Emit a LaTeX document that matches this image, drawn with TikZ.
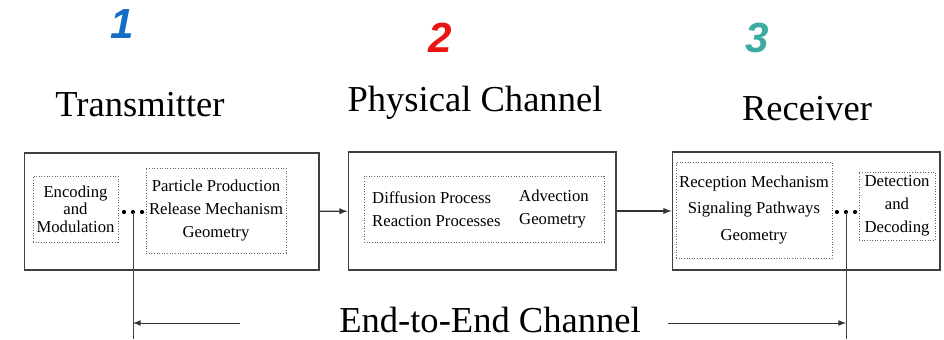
\documentclass[tikz,border=0pt]{standalone}
\usepackage{fontspec}
\setmainfont{Liberation Serif}
\newfontfamily\numfont{Liberation Sans}
\usepackage{xcolor}
\usetikzlibrary{arrows,calc}
\definecolor{numblue}{RGB}{20,110,200}
\definecolor{numred}{RGB}{235,20,20}
\definecolor{numteal}{RGB}{60,170,160}
\tikzset{
  block/.style={draw=black!75, line width=0.6pt, inner sep=0pt},
  inbox/.style={draw=black!60, densely dotted, line width=0.5pt, inner sep=0pt, align=center},
  title/.style={font=\fontsize{20.8}{22}\selectfont},
  small/.style={font=\fontsize{9.5}{13}\selectfont},
  num/.style={font=\numfont\bfseries\itshape\fontsize{24}{24}\selectfont},
}

\begin{document}
\begin{tikzpicture}[x=0.02cm,y=-0.02cm]
  \useasboundingbox (0,0) rectangle (944,339);
  % Define coordinates
  \node[num, text=numblue] (n1) at (122,24) {1};
  \node[num, text=numred] (n2) at (440,38) {2};
  \node[num, text=numteal] (n3) at (757,38) {3};
  \node[title] (ttx) at (140,105) {Transmitter};
  \node[title] (tch) at (475,103) {Physical Channel};
  \node[title] (trx) at (807,109) {Receiver};

  \node[block, minimum width=5.9cm, minimum height=2.34cm] (tx) at (171.5,211.5) {};
  \node[block, minimum width=5.36cm, minimum height=2.36cm] (ch) at (482,211) {};
  \node[block, minimum width=5.36cm, minimum height=2.36cm] (rx) at (806,211) {};

  \node[inbox, minimum width=1.7cm, minimum height=1.32cm, font=\fontsize{9.5}{10}\selectfont] (enc) at (75.5,209) {Encoding\\and\\Modulation};
  \node[inbox, small, minimum width=2.8cm, minimum height=1.7cm] (rel) at (216,210.5) {Particle Production\\Release Mechanism\\Geometry};
  \node[inbox, minimum width=4.8cm, minimum height=1.32cm] (prop) at (484,209) {};
  \node[small, align=left, anchor=west] (diff) at (366,209) {Diffusion Process\\Reaction Processes};
  \node[small, align=left, anchor=west] (adv) at (513,209) {Advection\\Geometry};
  \node[inbox, minimum width=3.12cm, minimum height=1.92cm, font=\fontsize{9.5}{15.3}\selectfont] (rec) at (754,210) {Reception Mechanism\\Signaling Pathways\\Geometry};
  \node[inbox, small, minimum width=1.52cm, minimum height=1.36cm] (dec) at (897,206) {Detection\\and\\Decoding};

  \foreach \x in {124,133,142} \fill (\x,212) circle (2.1);
  \foreach \x in {837,846,855} \fill (\x,212) circle (2.1);
  \coordinate (dtx) at (133,212);
  \coordinate (drx) at (846,212);
  \coordinate (btx) at (133,339);
  \coordinate (brx) at (846,339);
  \draw[black!75, line width=0.5pt] (dtx) -- (btx);
  \draw[black!75, line width=0.5pt] (drx) -- (brx);

  \draw[-latex, black!80, line width=0.6pt] (tx) -- (ch);
  \draw[-latex, black!80, line width=0.6pt] (ch) -- (rx);

  \node[title, inner sep=0pt, anchor=base] (e2e) at (490,332) {End-to-End Channel};
  \coordinate (aL) at (240,323);
  \coordinate (aR) at (668,323);
  \draw[-latex, black!80, line width=0.5pt] (aL) -- (dtx |- aL);
  \draw[-latex, black!80, line width=0.5pt] (aR) -- (drx |- aR);
\end{tikzpicture}
\end{document}
